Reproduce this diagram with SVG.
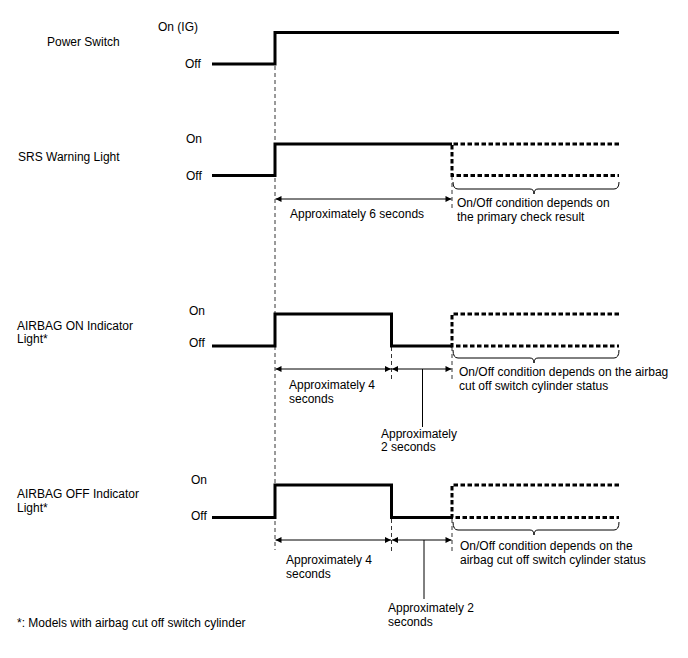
<svg xmlns="http://www.w3.org/2000/svg" width="688" height="658" viewBox="0 0 688 658">
<style>
text{font-family:"Liberation Sans",Arial,sans-serif;font-size:12px;fill:#000}
.sig{fill:none;stroke:#000;stroke-width:3;stroke-linejoin:miter}
.dsig{fill:none;stroke:#000;stroke-width:3;stroke-dasharray:4.5 2.5}
.guide{fill:none;stroke:#000;stroke-width:0.8;stroke-dasharray:4 3}
.dim{fill:none;stroke:#000;stroke-width:1}
</style>
<defs>
<marker id="ah" viewBox="0 0 10 10" refX="10" refY="5" markerWidth="10" markerHeight="6" markerUnits="userSpaceOnUse" orient="auto-start-reverse">
<path d="M0,0 L10,5 L0,10 z" fill="#000"/>
</marker>
</defs>
<rect width="688" height="658" fill="#fff"/>

<g id="power-switch">
<text x="47" y="46">Power Switch</text>
<text x="158" y="31">On (IG)</text>
<text x="185" y="68">Off</text>
<polyline class="sig" points="212,64 275,64 275,32.5 619,32.5"/>
</g>

<g id="srs-warning-light">
<text x="18" y="161">SRS Warning Light</text>
<text x="186" y="143">On</text>
<text x="186" y="180">Off</text>
<polyline class="sig" points="212,175.5 275,175.5 275,144 452,144"/>
<polyline class="dsig" points="619,144 452,144 452,175.5 619,175.5"/>
<path class="dim" d="M453,182 q0,7 5,7 L530,189 q4,0 4,5 q0,-5 4,-5 L614,189 q5,0 5,-7"/>
<text x="290" y="218">Approximately 6 seconds</text>
<text x="457" y="207">On/Off condition depends on</text>
<text x="457" y="221">the primary check result</text>
</g>

<g id="airbag-on-light">
<text x="17" y="330">AIRBAG ON Indicator</text>
<text x="17" y="343">Light*</text>
<text x="189" y="315">On</text>
<text x="189" y="347">Off</text>
<polyline class="sig" points="212,346 275,346 275,314 391.5,314 391.5,346 452,346"/>
<polyline class="dsig" points="619,314 452,314 452,346 619,346"/>
<path class="dim" d="M453,350 q0,8 5,8 L530,358 q4,0 4,5 q0,-5 4,-5 L614,358 q5,0 5,-8"/>
<text x="289" y="389">Approximately 4</text>
<text x="289" y="403">seconds</text>
<text x="381" y="438">Approximately</text>
<text x="381" y="451">2 seconds</text>
<text x="459" y="376">On/Off condition depends on the airbag</text>
<text x="459" y="390">cut off switch cylinder status</text>
</g>

<g id="airbag-off-light">
<text x="17" y="498">AIRBAG OFF Indicator</text>
<text x="17" y="512">Light*</text>
<text x="191" y="484">On</text>
<text x="191" y="520">Off</text>
<polyline class="sig" points="212,517.5 275,517.5 275,485 391.5,485 391.5,517.5 452,517.5"/>
<polyline class="dsig" points="619,485 452,485 452,517.5 619,517.5"/>
<path class="dim" d="M453,522 q0,8 5,8 L530,530 q4,0 4,5 q0,-5 4,-5 L614,530 q5,0 5,-8"/>
<text x="286" y="564">Approximately 4</text>
<text x="286" y="578">seconds</text>
<text x="388" y="612">Approximately 2</text>
<text x="388" y="626">seconds</text>
<text x="460" y="550">On/Off condition depends on the</text>
<text x="460" y="564">airbag cut off switch cylinder status</text>
</g>

<g id="footnote">
<text x="17" y="627">*: Models with airbag cut off switch cylinder</text>
</g>

<g id="connectors">
<line class="guide" x1="275" y1="66" x2="275" y2="550"/>
<line class="guide" x1="452" y1="176" x2="452" y2="208"/>
<line class="guide" x1="391.5" y1="347" x2="391.5" y2="380"/>
<line class="guide" x1="452" y1="347" x2="452" y2="380"/>
<line class="guide" x1="391.5" y1="519" x2="391.5" y2="551"/>
<line class="guide" x1="452" y1="519" x2="452" y2="551"/>
<line class="dim" x1="275.5" y1="199" x2="451.5" y2="199" marker-start="url(#ah)" marker-end="url(#ah)"/>
<line class="dim" x1="275.5" y1="369" x2="391" y2="369" marker-start="url(#ah)" marker-end="url(#ah)"/>
<line class="dim" x1="392" y1="369" x2="451.5" y2="369" marker-start="url(#ah)" marker-end="url(#ah)"/>
<line class="dim" x1="422.5" y1="369" x2="422.5" y2="427"/>
<line class="dim" x1="275.5" y1="540" x2="391" y2="540" marker-start="url(#ah)" marker-end="url(#ah)"/>
<line class="dim" x1="392" y1="540" x2="451.5" y2="540" marker-start="url(#ah)" marker-end="url(#ah)"/>
<line class="dim" x1="424" y1="540" x2="424" y2="599"/>
</g>
</svg>
